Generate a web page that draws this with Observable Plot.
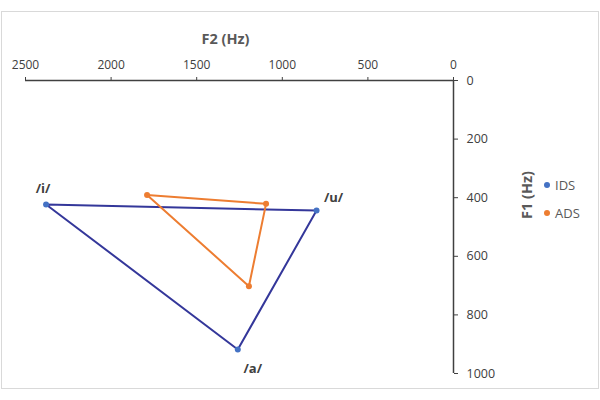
<!DOCTYPE html>
<html>
<head>
<meta charset="utf-8">
<script src="https://cdn.jsdelivr.net/npm/d3@7"></script>
<script src="https://cdn.jsdelivr.net/npm/@observablehq/plot@0.6"></script>
<style>
  html, body { margin: 0; padding: 0; background: #fff; }
  #wrap { position: relative; width: 600px; height: 400px; font-family: "Open Sans", sans-serif; }
  #border { position: absolute; left: 1px; top: 11px; width: 596px; height: 376px; border: 1px solid #d9d9d9; pointer-events: none; }
  #legend { position: absolute; left: 544px; top: 175px; font-size: 13px; color: #595959; }
  .item { display: flex; align-items: center; height: 20px; margin-bottom: 8px; }
  .sw { width: 6px; height: 6px; border-radius: 50%; margin-right: 5px; }
</style>
</head>
<body>
<div id="wrap">
  <div id="chart"></div>
  <div id="border"></div>
  <div id="legend"></div>
</div>
<script>
const vowels = ["/i/", "/u/", "/a/"];
const idsF2 = [2380, 800, 1260];
const idsF1 = [423, 444, 918];
const adsF2 = [1790, 1095, 1195];
const adsF1 = [391, 421, 702];
const seriesNames = ["IDS", "ADS"];
const lineColors = ["#34379A", "#ED7D31"];
const pointColors = ["#4472C4", "#ED7D31"];
const xTicks = [0, 500, 1000, 1500, 2000, 2500];
const yTicks = [0, 200, 400, 600, 800, 1000];

function rows(name, f2, f1) {
  return vowels.map((v, i) => ({series: name, vowel: v, F2: f2[i], F1: f1[i]}));
}
const ids = rows("IDS", idsF2, idsF1);
const ads = rows("ADS", adsF2, adsF1);
const closed = d => [...d, d[0]];

const labelStyle = {fontSize: 13, fontWeight: "bold", fill: "#404040"};

const chart = Plot.plot({
  width: 600,
  height: 400,
  marginLeft: 25,
  marginRight: 147,
  marginTop: 80,
  marginBottom: 27,
  style: {fontFamily: "'Open Sans', sans-serif", fontSize: "12px", color: "#404040", background: "transparent"},
  x: {domain: [0, 2500], reverse: true},
  y: {domain: [0, 1000], reverse: true},
  marks: [
    Plot.ruleY([0], {stroke: "#404040", strokeWidth: 1.5}),
    Plot.ruleX([0], {stroke: "#404040", strokeWidth: 1.5}),
    Plot.axisX({anchor: "top", ticks: xTicks, tickSize: 4, tickPadding: 8, label: null, tickFormat: d => String(d), fontSize: 12}),
    Plot.axisY({anchor: "right", ticks: yTicks, tickSize: 4, tickPadding: 9, label: null, tickFormat: d => String(d), fontSize: 12.5}),
    Plot.line(closed(ids), {x: "F2", y: "F1", stroke: lineColors[0], strokeWidth: 2}),
    Plot.line(closed(ads), {x: "F2", y: "F1", stroke: lineColors[1], strokeWidth: 2}),
    Plot.dot(ids, {x: "F2", y: "F1", r: 3, fill: pointColors[0]}),
    Plot.dot(ads, {x: "F2", y: "F1", r: 3, fill: pointColors[1]}),
    Plot.text(ids.filter(d => d.vowel === "/i/"), {x: "F2", y: "F1", text: "vowel", dx: -3, dy: -16, ...labelStyle}),
    Plot.text(ids.filter(d => d.vowel === "/u/"), {x: "F2", y: "F1", text: "vowel", dx: 17, dy: -13, ...labelStyle}),
    Plot.text(ids.filter(d => d.vowel === "/a/"), {x: "F2", y: "F1", text: "vowel", dx: 15, dy: 19, ...labelStyle}),
    Plot.text(["F2 (Hz)"], {frameAnchor: "top", dx: -14, dy: -47, textAnchor: "middle", fontSize: 14.5, fontWeight: "bold", fill: "#595959"}),
    Plot.text(["F1 (Hz)"], {frameAnchor: "right", dx: 74, dy: -32, rotate: -90, textAnchor: "middle", lineAnchor: "middle", fontSize: 14.5, fontWeight: "bold", fill: "#595959"})
  ]
});
document.getElementById("chart").appendChild(chart);

const legend = document.getElementById("legend");
seriesNames.forEach((name, i) => {
  const item = document.createElement("div");
  item.className = "item";
  item.innerHTML = `<span class="sw" style="background:${pointColors[i]}"></span><span>${name}</span>`;
  legend.appendChild(item);
});
</script>
</body>
</html>
